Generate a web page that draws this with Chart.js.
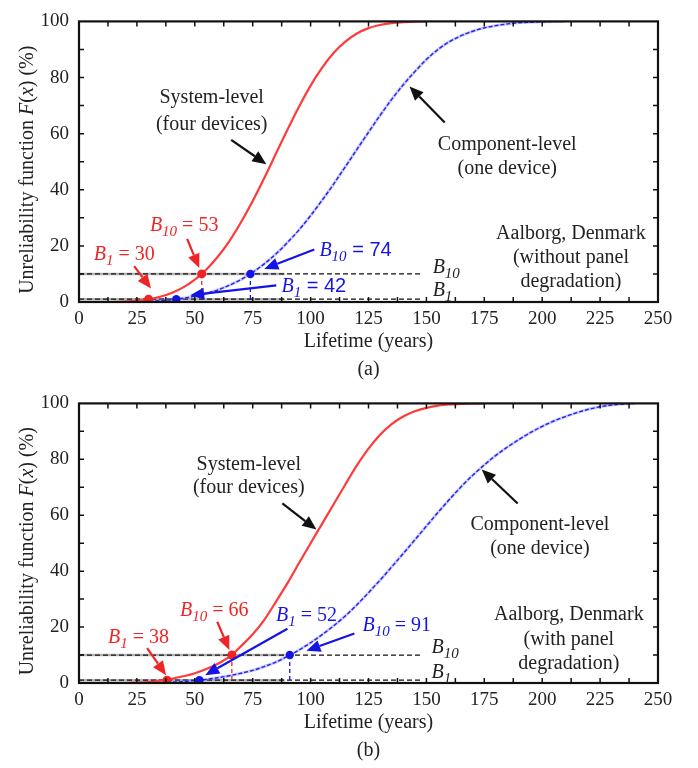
<!DOCTYPE html>
<html>
<head>
<meta charset="utf-8">
<script src="https://cdn.jsdelivr.net/npm/chart.js@4.4.1/dist/chart.umd.min.js"></script>
<style>
  html, body { margin: 0; padding: 0; background: #fff; }
  .panel { position: relative; width: 698px; }
  #panelA { height: 382px; }
  #panelB { height: 381px; }
</style>
</head>
<body>
<div class="panel" id="panelA"><canvas id="chartA"></canvas></div>
<div class="panel" id="panelB"><canvas id="chartB"></canvas></div>
<script>
// ---- data ----
// (a) without panel degradation
const sysYearsA = [15,20,25,30,35,40,45,50,55,60,65,70,75,80,85,90,95,100,105,110,115,120,125,130,135,140,145,150];
const sysFA = [0.06,0.18,0.47,0.99,1.87,3.24,5.22,7.96,11.6,16.2,21.8,28.5,36.0,44.2,52.8,61.4,69.6,77.1,83.5,88.8,92.8,95.7,97.6,98.7,99.4,99.7,99.9,100];
const compYearsA = [20,25,30,35,40,45,50,55,60,65,70,75,80,85,90,95,100,105,110,115,120,125,130,135,140,145,150,155,160,165,170,175,180,185,190,195,200,205,210];
const compFA = [0.05,0.12,0.25,0.47,0.82,1.33,2.05,3.04,4.33,5.98,8.04,10.6,13.6,17.1,21.2,25.7,30.8,36.3,42.1,48.2,54.4,60.5,66.5,72.2,77.4,82.1,86.4,90.0,92.8,94.9,96.5,97.7,98.5,99.1,99.5,99.7,99.86,99.93,100];

// (b) with panel degradation
const sysYearsB = [20,25,30,35,40,45,50,55,60,65,70,75,80,85,90,95,100,105,110,115,120,125,130,135,140,145,150,155,160,165,170,175];
const sysFB = [0,0.1,0.35,0.8,1.5,2.4,3.5,5.0,6.9,9.4,13.2,17.4,22.6,29.0,35.7,42.9,50.0,57.0,64.0,71.0,77.8,83.8,88.8,92.6,95.3,97.2,98.4,99.2,99.6,99.8,99.9,100];
const compYearsB = [25,30,35,40,45,50,55,60,65,70,75,80,85,90,95,100,105,110,115,120,125,130,135,140,145,150,155,160,165,170,175,180,185,190,195,200,205,210,215,220,225,230,235,240];
const compFB = [0.02,0.05,0.1,0.3,0.5,0.9,1.3,1.9,2.6,3.5,4.5,5.9,7.5,9.5,11.8,14.4,17.3,20.5,24.0,28.0,32.3,36.8,41.5,46.3,51.2,56.1,61.0,65.7,70.2,74.3,78.0,81.4,84.4,87.1,89.6,91.8,93.7,95.3,96.7,97.9,98.8,99.4,99.8,100];

// B1 / B10 lifetimes (years)
const bLevels = [1, 10];
const sysLifeA = [30, 53];
const compLifeA = [42, 74];
const sysLifeB = [38, 66];
const compLifeB = [52, 91];
const bLineEnd = 148;

const xTickLabels = [0,25,50,75,100,125,150,175,200,225,250];
const yTickLabels = [0,20,40,60,80,100];

const SERIF = '"Liberation Serif", "Times New Roman", serif';
const SANS = '"Liberation Sans", Arial, sans-serif';
const RED = '#f02424';
const BLUE = '#1414e6';
const INK = '#222';

// annotation layout, in data units
const notesA = {
  texts: [
    { x: 57.3, y: 73.4, parts: [['System-level']] },
    { x: 57.3, y: 63.7, parts: [['(four devices)']] },
    { x: 184.9, y: 56.7, parts: [['Component-level']] },
    { x: 184.9, y: 48.1, parts: [['(one device)']] },
    { x: 212.4, y: 24.9, parts: [['Aalborg, Denmark']] },
    { x: 212.4, y: 16.3, parts: [['(without panel']] },
    { x: 212.4, y: 8.0, parts: [['degradation)']] },
    { x: 152.7, y: 13.0, align: 'left', parts: [['B', 'i'], ['10', 'is']] },
    { x: 152.7, y: 4.6, align: 'left', parts: [['B', 'i'], ['1', 'is']] },
    { x: 45.4, y: 27.7, color: RED, parts: [['B', 'i'], ['10', 'is'], [' = 53']] },
    { x: 19.5, y: 17.3, color: RED, parts: [['B', 'i'], ['1', 'is'], [' = 30']] },
    { x: 103.8, y: 19.0, align: 'left', color: BLUE, parts: [['B', 'i'], ['10', 'is'], [' = 74', 'a']] },
    { x: 87.4, y: 5.9, align: 'left', color: BLUE, parts: [['B', 'i'], ['1', 'is'], [' = 42', 'a']] }
  ],
  arrows: [
    { from: [65.7, 57.8], to: [80.9, 49.1], color: '#111' },
    { from: [157.9, 64.0], to: [142.7, 76.8], color: '#111' },
    { from: [23.8, 12.8], to: [31.1, 4.8], color: RED },
    { from: [46.7, 22.5], to: [51.9, 12.1], color: RED },
    { from: [101.6, 18.7], to: [80.0, 11.8], color: BLUE },
    { from: [85.2, 5.9], to: [48.0, 2.4], color: BLUE }
  ]
};

const notesB = {
  texts: [
    { x: 73.3, y: 78.8, parts: [['System-level']] },
    { x: 73.3, y: 70.5, parts: [['(four devices)']] },
    { x: 199, y: 57.3, parts: [['Component-level']] },
    { x: 199, y: 48.6, parts: [['(one device)']] },
    { x: 211.5, y: 25.0, parts: [['Aalborg, Denmark']] },
    { x: 211.5, y: 16.0, parts: [['(with panel']] },
    { x: 211.5, y: 7.6, parts: [['degradation)']] },
    { x: 152.2, y: 13.2, align: 'left', parts: [['B', 'i'], ['10', 'is']] },
    { x: 152.2, y: 4.4, align: 'left', parts: [['B', 'i'], ['1', 'is']] },
    { x: 58.4, y: 26.4, color: RED, parts: [['B', 'i'], ['10', 'is'], [' = 66']] },
    { x: 25.7, y: 16.7, color: RED, parts: [['B', 'i'], ['1', 'is'], [' = 38']] },
    { x: 98.2, y: 24.7, color: BLUE, parts: [['B', 'i'], ['1', 'is'], [' = 52']] },
    { x: 122.4, y: 21.2, align: 'left', color: BLUE, parts: [['B', 'i'], ['10', 'is'], [' = 91']] }
  ],
  arrows: [
    { from: [87.8, 64.2], to: [102.5, 54.9], color: '#111' },
    { from: [189.4, 64.2], to: [173.9, 76.4], color: '#111' },
    { from: [59.7, 21.9], to: [64.9, 11.8], color: RED },
    { from: [29.4, 12.5], to: [37.6, 2.8], color: RED },
    { from: [90.0, 19.4], to: [54.5, 2.8], color: BLUE },
    { from: [118.9, 17.7], to: [98.2, 11.5], color: BLUE }
  ]
};

// ---- drawing helpers ----
function partFont(flags, size) {
  flags = flags || '';
  const s = flags.includes('s') ? Math.round(size * 0.75) : size;
  return (flags.includes('i') ? 'italic ' : '') + s + 'px ' + (flags.includes('a') ? SANS : SERIF);
}

function drawRich(ctx, parts, x, y, align, color, size) {
  ctx.save();
  ctx.fillStyle = color;
  ctx.textBaseline = 'alphabetic';
  ctx.textAlign = 'left';
  let total = 0;
  parts.forEach(p => { ctx.font = partFont(p[1], size); total += ctx.measureText(p[0]).width; });
  let cx = align === 'left' ? x : x - total / 2;
  parts.forEach(p => {
    ctx.font = partFont(p[1], size);
    const dy = (p[1] || '').includes('s') ? 5 : 0;
    ctx.fillText(p[0], cx, y + dy);
    cx += ctx.measureText(p[0]).width;
  });
  ctx.restore();
}

function drawArrow(ctx, x1, y1, x2, y2, color) {
  const ang = Math.atan2(y2 - y1, x2 - x1);
  const len = 14, half = 6;
  const bx = x2 - len * Math.cos(ang), by = y2 - len * Math.sin(ang);
  ctx.save();
  ctx.strokeStyle = color;
  ctx.fillStyle = color;
  ctx.lineWidth = 2.2;
  ctx.beginPath();
  ctx.moveTo(x1, y1);
  ctx.lineTo(bx, by);
  ctx.stroke();
  ctx.beginPath();
  ctx.moveTo(x2, y2);
  ctx.lineTo(bx + half * Math.sin(ang), by - half * Math.cos(ang));
  ctx.lineTo(bx - half * Math.sin(ang), by + half * Math.cos(ang));
  ctx.closePath();
  ctx.fill();
  ctx.restore();
}

const figurePlugin = {
  id: 'figure',
  afterDraw(chart, args, opts) {
    const { ctx, chartArea: a, scales: { x, y } } = chart;
    // frame with inward ticks
    ctx.save();
    ctx.strokeStyle = '#111';
    ctx.lineWidth = 1.5;
    ctx.beginPath();
    for (let v = 12.5; v < 250; v += 12.5) {
      const px = x.getPixelForValue(v);
      ctx.moveTo(px, a.bottom); ctx.lineTo(px, a.bottom - 5);
      ctx.moveTo(px, a.top); ctx.lineTo(px, a.top + 5);
    }
    for (let v = 10; v < 100; v += 10) {
      const py = y.getPixelForValue(v);
      ctx.moveTo(a.left, py); ctx.lineTo(a.left + 5, py);
      ctx.moveTo(a.right, py); ctx.lineTo(a.right - 5, py);
    }
    ctx.stroke();
    ctx.lineWidth = 2.2;
    ctx.strokeRect(a.left, a.top, a.right - a.left, a.bottom - a.top);
    ctx.restore();

    // y-axis title with italic F and x
    ctx.save();
    ctx.translate(26, (a.top + a.bottom) / 2 + 8);
    ctx.rotate(-Math.PI / 2);
    drawRich(ctx, [['Unreliability function '], ['F', 'i'], ['('], ['x', 'i'], [') (%)']], 0, 7, 'center', INK, 20);
    ctx.restore();

    const notes = opts.notes;
    notes.arrows.forEach(ar => {
      drawArrow(ctx, x.getPixelForValue(ar.from[0]), y.getPixelForValue(ar.from[1]),
        x.getPixelForValue(ar.to[0]), y.getPixelForValue(ar.to[1]), ar.color);
    });
    notes.texts.forEach(t => {
      drawRich(ctx, t.parts, x.getPixelForValue(t.x), y.getPixelForValue(t.y) + 7,
        t.align || 'center', t.color || INK, 20);
    });
  }
};

function pts(xs, ys) { return xs.map((v, i) => ({ x: v, y: ys[i] })); }

function makePanel(id, label, series, notes) {
  const [sysX, sysY, compX, compY, sysLife, compLife] = series;
  const datasets = [
    { data: pts(sysLife, bLevels), showLine: false, pointRadius: 4.5, pointBackgroundColor: RED, pointBorderWidth: 0 },
    { data: pts(compLife, bLevels), showLine: false, pointRadius: 4.2, pointBackgroundColor: BLUE, pointBorderWidth: 0 },
    { data: [{ x: sysLife[1], y: bLevels[1] }, { x: sysLife[1], y: 0 }], borderColor: RED, borderWidth: 1.3, borderDash: [4, 3], pointRadius: 0 },
    { data: [{ x: compLife[1], y: bLevels[1] }, { x: compLife[1], y: 0 }], borderColor: BLUE, borderWidth: 1.3, borderDash: [4, 3], pointRadius: 0 },
    { data: pts(sysX, sysY), borderColor: '#ff3a3a', borderWidth: 2.2, pointRadius: 0, cubicInterpolationMode: 'monotone' },
    { data: pts(compX, compY), borderColor: '#2222e6', borderWidth: 1.4, borderDash: [4, 2], pointRadius: 0, cubicInterpolationMode: 'monotone' },
    { data: pts(compX, compY), borderColor: 'rgba(130,130,255,0.42)', borderWidth: 3, pointRadius: 0, cubicInterpolationMode: 'monotone' }
  ];
  bLevels.forEach(lv => {
    datasets.push({ data: [{ x: 0, y: lv }, { x: bLineEnd, y: lv }], borderColor: '#111', borderWidth: 1.2, borderDash: [5, 3], pointRadius: 0 });
    datasets.push({ data: [{ x: 0, y: lv }, { x: bLineEnd * 0.6, y: lv }], borderColor: 'rgba(0,0,0,0.3)', borderWidth: 2.5, pointRadius: 0 });
  });

  return new Chart(document.getElementById(id), {
    type: 'scatter',
    data: { datasets: datasets.map(d => Object.assign({ showLine: true, fill: false }, d)) },
    options: {
      responsive: true,
      maintainAspectRatio: false,
      animation: false,
      events: [],
      layout: { padding: { top: 13, right: 40, left: 0, bottom: 0 } },
      scales: {
        x: {
          type: 'linear', min: 0, max: 250,
          afterBuildTicks: s => { s.ticks = xTickLabels.map(v => ({ value: v })); },
          afterFit: s => { s.height = 50; },
          grid: { display: false, drawTicks: false },
          border: { display: false },
          ticks: { autoSkip: false, maxRotation: 0, padding: 6, color: INK, font: { family: SERIF, size: 19 } },
          title: { display: true, text: 'Lifetime (years)', color: INK, font: { family: SERIF, size: 20, lineHeight: 1 }, padding: { top: 0, bottom: 0 } }
        },
        y: {
          type: 'linear', min: 0, max: 100,
          afterBuildTicks: s => { s.ticks = yTickLabels.map(v => ({ value: v })); },
          afterFit: s => { s.width = 79; },
          grid: { display: false, drawTicks: false },
          border: { display: false },
          ticks: { padding: 10, color: INK, font: { family: SERIF, size: 19 } }
        }
      },
      plugins: {
        legend: { display: false },
        tooltip: { enabled: false },
        title: { display: true, position: 'bottom', fullSize: false, text: label, color: INK,
          font: { family: SERIF, size: 20, weight: 'normal', lineHeight: 1.2 }, padding: { top: 6, bottom: 0 } },
        figure: { notes: notes }
      }
    },
    plugins: [figurePlugin]
  });
}

makePanel('chartA', '(a)', [sysYearsA, sysFA, compYearsA, compFA, sysLifeA, compLifeA], notesA);
makePanel('chartB', '(b)', [sysYearsB, sysFB, compYearsB, compFB, sysLifeB, compLifeB], notesB);
</script>
</body>
</html>
